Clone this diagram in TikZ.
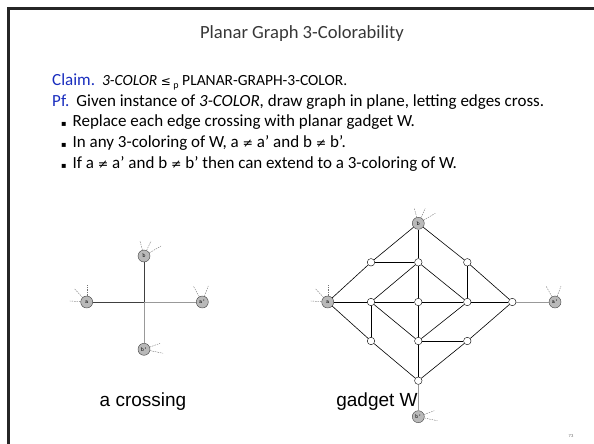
\documentclass[tikz,border=0pt]{standalone}
\usepackage{fontspec}
\setmainfont{Carlito}
\newfontfamily\symfont{DejaVu Sans}
\newfontfamily\capfont{Liberation Sans}
\usepackage{xcolor}
\usetikzlibrary{positioning}
\definecolor{claimblue}{RGB}{25,45,190}
\definecolor{titlegray}{RGB}{55,55,55}
\definecolor{termgray}{RGB}{185,185,185}
\newcommand{\nesym}{{\symfont\fontsize{12.5}{14}\selectfont ≠}}
\newcommand{\lesym}{{\symfont\fontsize{12}{14}\selectfont ≤}}
\newcommand{\sqbullet}{{\symfont\fontsize{8}{9}\selectfont ▪}}

\begin{document}
\begin{tikzpicture}[
    x=1pt, y=-1pt,
    txt/.style={anchor=west, inner sep=0pt, font=\fontsize{17}{20}\selectfont},
    term/.style={circle, draw=black!75, fill=termgray, minimum size=12pt, inner sep=0pt, font=\ttfamily\fontsize{6}{6}\selectfont},
    wnode/.style={circle, draw=black, fill=white, minimum size=7.5pt, inner sep=0pt},
    edge/.style={draw=black, line width=0.6pt},
    faredge/.style={draw=black!40, line width=0.8pt},
    stick/.style={draw=black!55, line width=0.4pt, dash pattern=on 1.5pt off 1pt},
    caption/.style={font=\capfont\fontsize{19}{22}\selectfont}
]
\useasboundingbox (0,0) rectangle (594,444);

% slide frame
\draw[black!85, line width=2.6pt] (8.6,444) -- (8.6,8.6) -- (594,8.6);
\node[text=black!60, font=\fontsize{4.5}{5}\selectfont] (pageno) at (571,436) {73};

% title and text
\node[text=titlegray, font=\fontsize{18.6}{22}\selectfont] (title) at (302,34) {Planar Graph 3-Colorability};
\node[txt] (claim) at (52,82) {\textcolor{claimblue}{Claim.}\hspace{7pt}{\fontsize{15.5}{18}\selectfont\textit{3-COLOR} \lesym\,\raisebox{-0.35ex}{\fontsize{10}{11}\selectfont p} PLANAR-GRAPH-3-COLOR.}};
\node[txt] (pf) at (52,102) {\textcolor{claimblue}{Pf.}\hspace{7pt}Given instance of \textit{3-COLOR}, draw graph in plane, letting edges cross.};
\node[txt] (bul1) at (61,122.5) {\sqbullet\hspace{6pt}Replace each edge crossing with planar gadget W.};
\node[txt] (bul2) at (61,143) {\sqbullet\hspace{6pt}In any 3-coloring of W, a \nesym{} a' and b \nesym{} b'.};
\node[txt] (bul3) at (61,163.5) {\sqbullet\hspace{6pt}If a \nesym{} a' and b \nesym{} b' then can extend to a 3-coloring of W.};

% a crossing
\node[term] (xa) at (86.7,302) {a};
\node[term] (xb) at (144,256) {b};
\node[term] (xap) at (202.3,302) {a'};
\node[term] (xbp) at (144,349.3) {b'};
\coordinate (xc) at (144,302);
\draw[edge, draw=black!75] (xa) -- (xc);
\draw[faredge] (xc) -- (xap);
\draw[edge, draw=black!75] (xb) -- (xc);
\draw[faredge] (xc) -- (xbp);
\node[caption] (xcap) at (143,402) {a crossing};

% gadget W
\node[term] (gb) at (418.3,223.3) {b};
\node[term] (ga) at (327.7,302) {a};
\node[term] (gap) at (555,302) {a'};
\node[term] (gbp) at (418.3,416.7) {b'};
\node[wnode] (w11) at (371,262.3) {};
\node[wnode] (w12) at (418.3,262.3) {};
\node[wnode] (w13) at (467.3,262.3) {};
\node[wnode] (w21) at (371,302) {};
\node[wnode] (w22) at (418.3,302) {};
\node[wnode] (w23) at (467.3,302) {};
\node[wnode] (w24) at (512.3,302) {};
\node[wnode] (w31) at (371,341) {};
\node[wnode] (w32) at (418.3,341) {};
\node[wnode] (w33) at (467.3,341) {};
\node[wnode] (w41) at (418.3,380.7) {};
\node[caption] (gcap) at (377,402) {gadget W};

\draw[edge] (gb) -- (w11);
\draw[edge] (gb) -- (w12);
\draw[edge] (gb) -- (w13);
\draw[edge] (w11) -- (w12);
\draw[edge] (w11) -- (ga);
\draw[edge] (w12) -- (w21);
\draw[edge] (w12) -- (w22);
\draw[edge] (w12) -- (w23);
\draw[edge] (w13) -- (w23);
\draw[edge] (w13) -- (w24);
\draw[edge] (ga) -- (w21);
\draw[edge] (w21) -- (w22);
\draw[edge] (w22) -- (w23);
\draw[edge] (w23) -- (w24);
\draw[faredge] (w24) -- (gap);
\draw[edge] (ga) -- (w31);
\draw[edge] (w21) -- (w31);
\draw[edge] (w21) -- (w32);
\draw[edge] (w22) -- (w32);
\draw[edge] (w23) -- (w32);
\draw[edge] (w32) -- (w33);
\draw[edge] (w24) -- (w33);
\draw[edge] (w31) -- (w41);
\draw[edge] (w32) -- (w41);
\draw[edge] (w33) -- (w41);
\draw[faredge] (w41) -- (gbp);

% dangling edges of the terminals
\foreach \t in {xa,ga} {
  \draw[stick] (\t) -- ++(-12,-13);
  \draw[stick] (\t) -- ++(0,-17);
  \draw[stick] (\t) -- ++(-17,-1);
}
\foreach \t in {xb,gb} {
  \draw[stick] (\t) -- ++(-4,-15);
  \draw[stick] (\t) -- ++(7,-15);
  \draw[stick] (\t) -- ++(17,-10);
}
\foreach \t in {xap,gap} {
  \draw[stick] (\t) -- ++(-9,-16);
  \draw[stick] (\t) -- ++(6,-16);
}
\foreach \t in {xbp,gbp} {
  \draw[stick] (\t) -- ++(16,-6);
  \draw[stick] (\t) -- ++(19,4);
}
\end{tikzpicture}
\end{document}
